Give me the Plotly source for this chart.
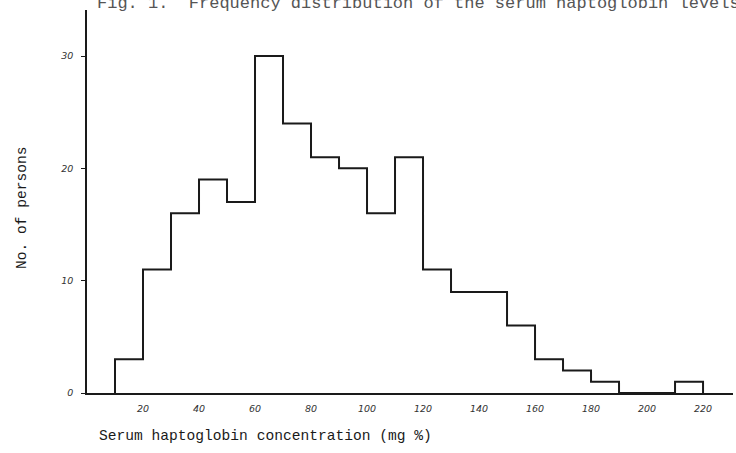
import plotly.graph_objects as go

# Bin left edges (mg %) and number of persons in each 10 mg % bin
bin_left = [10, 20, 30, 40, 50, 60, 70, 80, 90, 100, 110, 120, 130, 140, 150,
            160, 170, 180, 190, 200, 210]
bin_width = 10
counts = [3, 11, 16, 19, 17, 30, 24, 21, 20, 16, 21, 11, 9, 9, 6, 3, 2, 1, 0, 0, 1]

x_ticks = [20, 40, 60, 80, 100, 120, 140, 160, 180, 200, 220]
y_ticks = [0, 10, 20, 30]

title_text = "Fig. 1.  Frequency distribution of the serum haptoglobin levels"
x_title = "Serum haptoglobin concentration (mg %)"
y_title = "No. of persons"

# Step outline of the histogram built from the bin edges
edges = bin_left + [bin_left[-1] + bin_width]
xs = [edges[0]] + edges
ys = [0] + counts + [0]

fig = go.Figure()
fig.add_trace(go.Scatter(
    x=xs, y=ys, mode="lines", line=dict(shape="hv", color="#1a1a1a", width=2),
    hoverinfo="skip", showlegend=False,
))

L, R, T, B = 87, 3, 10, 60
W, H = 736, 453
pw, ph = W - L - R, H - T - B

def px_to_paper_x(px):
    return (px - L) / pw

def px_to_paper_y(py):
    return (H - B - py) / ph

tickfont = dict(family="DejaVu Sans", size=9.5, color="#333", style="italic")

fig.update_layout(
    width=W, height=H,
    margin=dict(l=L, r=R, t=T, b=B),
    paper_bgcolor="white", plot_bgcolor="white",
    showlegend=False,
    xaxis=dict(
        range=[0, 230.7], showgrid=False, zeroline=False,
        showline=True, linecolor="#1a1a1a", linewidth=1.5,
        tickmode="array", tickvals=x_ticks, ticktext=[str(v) for v in x_ticks],
        ticks="", tickfont=tickfont, ticklabelstandoff=6,
    ),
    yaxis=dict(
        range=[0, 34.1], showgrid=False, zeroline=False,
        showline=True, linecolor="#1a1a1a", linewidth=1.5,
        tickmode="array", tickvals=y_ticks, ticktext=[str(v) for v in y_ticks],
        ticks="outside", ticklen=4, tickcolor="#1a1a1a", tickwidth=1.2,
        tickfont=tickfont, ticklabelstandoff=6,
    ),
    annotations=[
        dict(text=title_text, xref="paper", yref="paper",
             x=px_to_paper_x(95), y=px_to_paper_y(3.5),
             xanchor="left", yanchor="middle", showarrow=False,
             font=dict(family="Liberation Mono", size=17, color="#555")),
        dict(text=x_title, xref="paper", yref="paper",
             x=px_to_paper_x(97), y=px_to_paper_y(436),
             xanchor="left", yanchor="middle", showarrow=False,
             font=dict(family="Liberation Mono", size=14.6, color="#1a1a1a")),
        dict(text=y_title, xref="paper", yref="paper",
             x=px_to_paper_x(22), y=px_to_paper_y(208), textangle=-90,
             xanchor="center", yanchor="middle", showarrow=False,
             font=dict(family="Liberation Mono", size=14.6, color="#1a1a1a")),
    ],
)

fig.write_html("out.html", config={"displayModeBar": False},
               post_script="document.body.style.margin='0';")
